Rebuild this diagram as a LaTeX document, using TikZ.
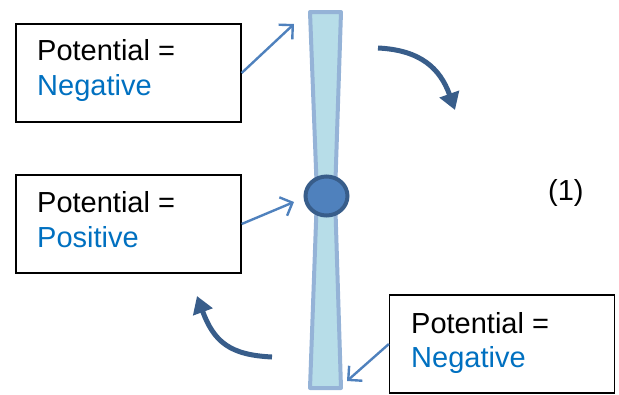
\documentclass[tikz,border=0pt]{standalone}
\usepackage{fontspec}
\setmainfont{Liberation Sans}
\usetikzlibrary{arrows.meta,shapes.geometric}
\definecolor{barline}{RGB}{149,179,215}
\definecolor{barfill}{RGB}{183,221,232}
\definecolor{ballfill}{RGB}{79,129,189}
\definecolor{balldark}{RGB}{56,93,138}
\definecolor{thinarrow}{RGB}{79,129,189}
\definecolor{valblue}{RGB}{0,112,192}
\begin{document}
\begin{tikzpicture}[x=1pt,y=-1pt,
  infobox/.style={draw=black,line width=1.3pt,minimum width=225pt,minimum height=98pt,inner sep=0pt},
  lbl/.style={anchor=base west,inner sep=0pt,font=\fontsize{29}{35}\selectfont},
  thinarr/.style={draw=thinarrow,line width=2.4pt,-{Straight Barb[length=10pt,width=20pt,line width=2.4pt]}},
  bigarr/.style={draw=balldark,line width=5pt,-{Triangle[length=17pt,width=20pt]}}]
\useasboundingbox (0,0) rectangle (619,394);
% bar
\draw[draw=barline,fill=barfill,line width=4pt,line join=round]
  (310,12) -- (341,12) -- (335,195) -- (341,388) -- (310,388) -- (317,195) -- cycle;
\node[ellipse,draw=balldark,fill=ballfill,line width=4pt,minimum width=42pt,minimum height=39pt,inner sep=0pt] (ball) at (326.5,196) {};
% boxes
\node[infobox] (b1) at (128.5,73) {};
\node[infobox] (b2) at (128.5,224) {};
\node[infobox] (b3) at (502,344) {};
\node[lbl] (t1a) at (37,60) {Potential =};
\node[lbl,text=valblue] (t1b) at (37,95) {Negative};
\node[lbl] (t2a) at (37,212) {Potential =};
\node[lbl,text=valblue] (t2b) at (37,247) {Positive};
\node[lbl] (t3a) at (411,333) {Potential =};
\node[lbl,text=valblue] (t3b) at (411,367) {Negative};
\node[lbl] (one) at (548,200) {(1)};
% thin arrows
\coordinate (p1) at (294,24);
\coordinate (p2) at (294,202);
\coordinate (p3) at (347,381);
\draw[thinarr] (b1.east) -- (p1);
\draw[thinarr] (b2.east) -- (p2);
\draw[thinarr] (b3.west) -- (p3);
% curved arrows
\coordinate (c1s) at (378,48);
\coordinate (c1e) at (455,110);
\coordinate (c2s) at (272,357);
\coordinate (c2e) at (197,296);
\draw[bigarr] (c1s) .. controls (420,50) and (440,68) .. (c1e);
\draw[bigarr] (c2s) .. controls (230,355) and (214,342) .. (c2e);
\end{tikzpicture}
\end{document}
